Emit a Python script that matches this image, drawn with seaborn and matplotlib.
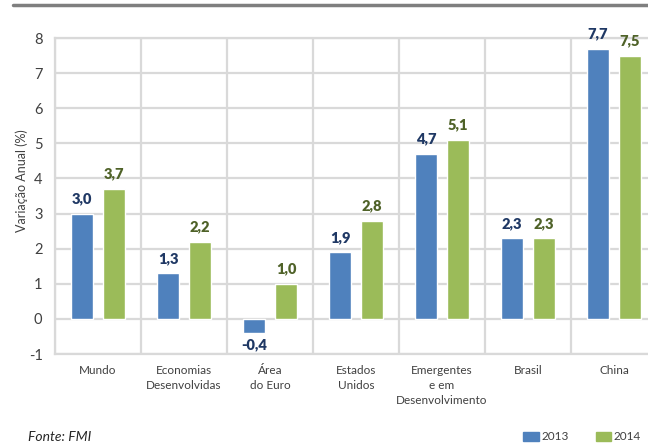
import pandas as pd
import seaborn as sns
import matplotlib.pyplot as plt
from matplotlib.lines import Line2D
from matplotlib.patches import Patch

# dados
regioes = ["Mundo", "Economias\nDesenvolvidas", "Área\ndo Euro", "Estados\nUnidos",
           "Emergentes\ne em\nDesenvolvimento", "Brasil", "China"]
anos = ["2013", "2014"]
v2013 = [3.0, 1.3, -0.4, 1.9, 4.7, 2.3, 7.7]
v2014 = [3.7, 2.2, 1.0, 2.8, 5.1, 2.3, 7.5]

cores = ["#4f81bd", "#9bbb59"]
cores_txt = ["#1f3864", "#4f6228"]

df = pd.DataFrame({
    "regiao": regioes * 2,
    "ano": [anos[0]] * len(regioes) + [anos[1]] * len(regioes),
    "valor": v2013 + v2014,
})

sns.set_style("white")
plt.rcParams["font.family"] = ["Lato", "DejaVu Sans"]
plt.rcParams["axes.unicode_minus"] = False

fig = plt.figure(figsize=(6.48, 4.47), dpi=100)
ax = fig.add_axes([55 / 648, 1 - 354 / 447, 602 / 648, 316 / 447])

sns.barplot(data=df, x="regiao", y="valor", hue="ano", palette=cores,
            width=0.744, gap=0.34, ax=ax, legend=False, saturation=1)

# rótulos de valor
for cont, cor in zip(ax.containers, cores_txt):
    for barra in cont:
        h = barra.get_height()
        x = barra.get_x() + barra.get_width() / 2
        txt = f"{h:.1f}".replace(".", ",")
        if h >= 0:
            ax.annotate(txt, (x, h), xytext=(0, 6), textcoords="offset points",
                        ha="center", va="bottom", fontsize=10.5, fontweight="heavy", color=cor)
        else:
            ax.annotate(txt, (x, h), xytext=(0, -4), textcoords="offset points",
                        ha="center", va="top", fontsize=10.5, fontweight="heavy", color=cor)

ax.set_ylim(-1, 8)
ax.set_xlim(-0.5, 6.5)
ax.set_yticks(range(-1, 9))
ax.set_xticks(range(len(regioes)))
ax.set_xticklabels(regioes, fontsize=8.5, color="#404040", linespacing=1.45, va="top")
ax.tick_params(axis="y", labelsize=10.5, labelcolor="#404040", length=0, pad=9)
ax.tick_params(axis="x", length=0, pad=8)
ax.set_xlabel("")
ax.set_ylabel("Variação Anual (%)", fontsize=9, color="#404040")
ax.yaxis.set_label_coords(-0.045, 0.55)

# grade
ax.set_axisbelow(True)
ax.grid(axis="y", color="#d9d9d9", linewidth=1.6)
for i in range(len(regioes) + 1):
    ax.axvline(i - 0.5, color="#d9d9d9", linewidth=1.6, zorder=0)
for s in ax.spines.values():
    s.set_color("#d9d9d9")
    s.set_linewidth(1.6)

# linha superior
fig.add_artist(Line2D([13 / 648, 1], [1 - 5 / 447] * 2, color="#7f7f7f", linewidth=2.5))

fig.text(28 / 648, 1 - 437 / 447, "Fonte: FMI", fontsize=10, style="italic",
         color="#262626", va="center")

handles = [Patch(color=c, label=a) for c, a in zip(cores, anos)]
fig.legend(handles=handles, loc="center right", bbox_to_anchor=(1.005, 1 - 437 / 447),
           ncol=2, frameon=False, fontsize=8.5, handlelength=1.3, handleheight=0.7,
           handletextpad=0.2, columnspacing=2.3, labelcolor="#404040")

fig.savefig("out.png", dpi=100)
